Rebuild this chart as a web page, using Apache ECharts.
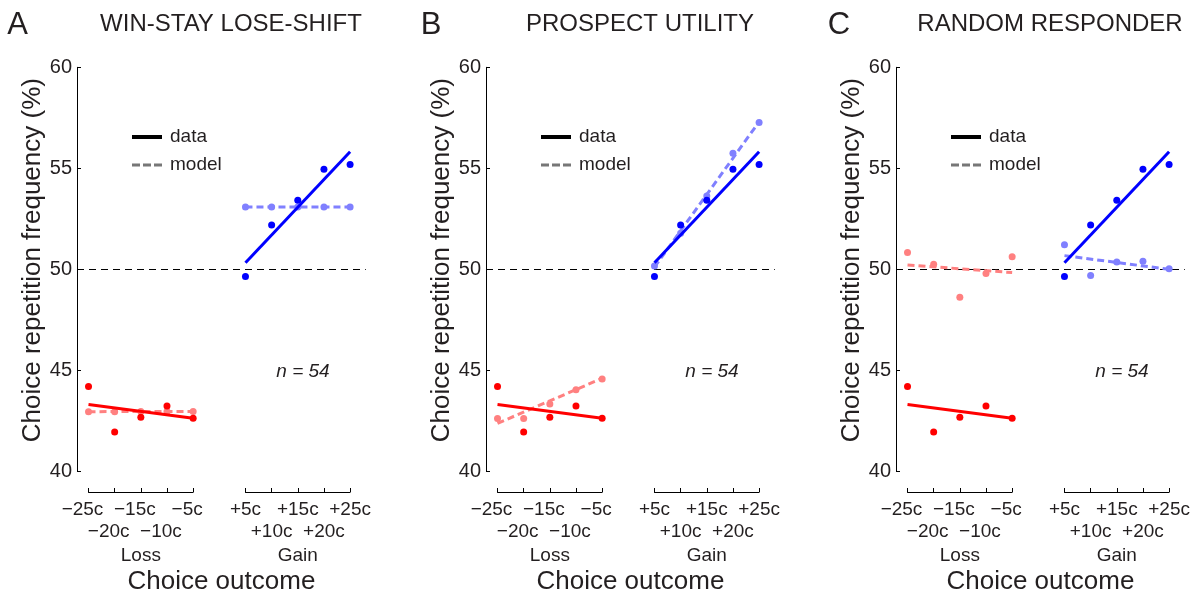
<!DOCTYPE html>
<html>
<head>
<meta charset="utf-8">
<script src="https://cdn.jsdelivr.net/npm/echarts@6/dist/echarts.min.js"></script>
<style>html,body{margin:0;padding:0;background:#fff}#c{width:1200px;height:596px}</style>
</head>
<body>
<div id="c"></div>
<script>
// ---------------- data ----------------
const lossLabels = ['−25c', '−20c', '−15c', '−10c', '−5c'];
const gainLabels = ['+5c', '+10c', '+15c', '+20c', '+25c'];
const lossX = [0, 1, 2, 3, 4];
const gainX = [6, 7, 8, 9, 10];
const yTicks = [40, 45, 50, 55, 60];

// observed data (same in all panels)
const lossData = [44.19, 41.93, 42.66, 43.22, 42.61];
const gainData = [49.63, 52.19, 53.41, 54.95, 55.18];
const lossDataFit = [43.30, 42.61];
const gainDataFit = [50.32, 55.82];

// A: win-stay lose-shift model
const wslsLossModel = [42.94, 42.94, 42.95, 42.95, 42.95];
const wslsGainModel = [53.08, 53.08, 53.08, 53.08, 53.08];
const wslsLossModelFit = [42.94, 42.95];
const wslsGainModelFit = [53.08, 53.08];

// B: prospect utility model
const puLossModel = [42.60, 42.60, 43.32, 44.03, 44.56];
const puGainModel = [50.16, 51.78, 53.63, 55.74, 57.26];
const puLossModelFit = [42.36, 44.59];
const puGainModelFit = [50.10, 57.30];

// C: random responder model
const rrLossModel = [50.82, 50.24, 48.61, 49.78, 50.62];
const rrGainModel = [51.21, 49.68, 50.36, 50.39, 50.02];
const rrLossModelFit = [50.21, 49.83];
const rrGainModelFit = [50.67, 49.99];

const panelLetters = ['A', 'B', 'C'];
const panelTitles = ['WIN-STAY LOSE-SHIFT', 'PROSPECT UTILITY', 'RANDOM RESPONDER'];
const nLabel = 'n = 54';

// ---------------- layout / style ----------------
const FONT = '"Liberation Sans", Arial, Helvetica, sans-serif';
const TXT = '#231f20';
const RED = '#ff0000', BLUE = '#0000ff', LRED = '#ff8080', LBLUE = '#8080ff';
const panelLeft = [77, 486, 896];
const letterX = [17.5, 431, 839];
const GTOP = 67.3, GH = 403.7, GW = 288.8;
const XMIN = -0.44, XMAX = 10.6;
const UNIT = GW / (XMAX - XMIN);

const models = [
  [wslsLossModel, wslsGainModel, wslsLossModelFit, wslsGainModelFit],
  [puLossModel, puGainModel, puLossModelFit, puGainModelFit],
  [rrLossModel, rrGainModel, rrLossModelFit, rrGainModelFit]
];

const grid = [], xAxis = [], yAxis = [], series = [], legend = [], graphic = [];

function pts(xs, ys) { return xs.map((x, i) => [x, ys[i]]); }
function fitPts(xs, f) { return [[xs[0], f[0]], [xs[xs.length - 1], f[1]]]; }

panelLetters.forEach((L, p) => {
  const left = panelLeft[p];
  const gi = grid.length;
  // main grid
  grid.push({ left: left, top: GTOP, width: GW, height: GH, containLabel: false, outerBoundsMode: 'none' });
  xAxis.push({
    gridIndex: gi, type: 'value', min: XMIN, max: XMAX,
    axisLine: { show: false, onZero: false }, axisTick: { show: false }, axisLabel: { show: false }, splitLine: { show: false },
    name: 'Choice outcome', nameLocation: 'middle', nameGap: 98,
    nameTextStyle: { fontFamily: FONT, fontSize: 26, color: TXT, lineHeight: 26 }
  });
  yAxis.push({
    gridIndex: gi, type: 'value', min: yTicks[0], max: yTicks[yTicks.length - 1], interval: yTicks[1] - yTicks[0],
    axisLine: { show: true, onZero: false, lineStyle: { color: '#000', width: 1 } },
    axisTick: { show: true, inside: true, length: 4, lineStyle: { color: '#000', width: 1 } },
    axisLabel: { fontFamily: FONT, fontSize: 20, color: TXT, margin: 5 },
    splitLine: { show: false },
    name: 'Choice repetition frequency (%)', nameLocation: 'middle', nameGap: 31,
    nameTextStyle: { fontFamily: FONT, fontSize: 26, color: TXT, lineHeight: 26, padding: [0, 0, 0, 18] }
  });

  const [lm, gm, lmf, gmf] = models[p];
  // model fit lines (dashed)
  series.push({
    type: 'line', xAxisIndex: gi, yAxisIndex: gi, data: fitPts(lossX, lmf), symbol: 'none', silent: true, z: 2,
    lineStyle: { color: LRED, width: 3, type: [7, 4] },
    markLine: {
      silent: true, symbol: ['none', 'none'], label: { show: false },
      lineStyle: { color: '#000', width: 1, type: [7, 5] },
      data: [{ yAxis: 50 }], z: 1
    }
  });
  series.push({
    type: 'line', xAxisIndex: gi, yAxisIndex: gi, data: fitPts(gainX, gmf), symbol: 'none', silent: true, z: 2,
    lineStyle: { color: LBLUE, width: 3, type: [7, 4] }
  });
  // model points
  series.push({ type: 'scatter', xAxisIndex: gi, yAxisIndex: gi, data: pts(lossX, lm), symbolSize: 7, itemStyle: { color: LRED, opacity: 1 }, z: 3, silent: true });
  series.push({ type: 'scatter', xAxisIndex: gi, yAxisIndex: gi, data: pts(gainX, gm), symbolSize: 7, itemStyle: { color: LBLUE, opacity: 1 }, z: 3, silent: true });
  // data fit lines
  series.push({
    type: 'line', xAxisIndex: gi, yAxisIndex: gi, data: fitPts(lossX, lossDataFit), symbol: 'none', silent: true, z: 4,
    lineStyle: { color: RED, width: 3 }
  });
  series.push({
    type: 'line', xAxisIndex: gi, yAxisIndex: gi, data: fitPts(gainX, gainDataFit), symbol: 'none', silent: true, z: 4,
    lineStyle: { color: BLUE, width: 3 }
  });
  // data points
  series.push({ type: 'scatter', xAxisIndex: gi, yAxisIndex: gi, data: pts(lossX, lossData), symbolSize: 7, itemStyle: { color: RED, opacity: 1 }, z: 5, silent: true });
  series.push({ type: 'scatter', xAxisIndex: gi, yAxisIndex: gi, data: pts(gainX, gainData), symbolSize: 7, itemStyle: { color: BLUE, opacity: 1 }, z: 5, silent: true });

  // bracket axes for Loss and Gain
  [[lossLabels, lossX, 'Loss', [0, 12, 0, 0]], [gainLabels, gainX, 'Gain', [0, 0, 0, 0]]].forEach(([labels, xs, nm, pad]) => {
    const bi = grid.length;
    const bl = left + (xs[0] - XMIN) * UNIT;
    const bw = (xs[xs.length - 1] - xs[0]) * UNIT;
    grid.push({ left: bl, top: 482, width: bw, height: 10, containLabel: false, outerBoundsMode: 'none' });
    xAxis.push({
      gridIndex: bi, type: 'category', data: labels, boundaryGap: false,
      axisLine: { show: true, onZero: false, lineStyle: { color: '#000', width: 1 } },
      axisTick: { show: true, inside: true, length: 4, alignWithLabel: true, interval: 0, lineStyle: { color: '#000', width: 1 } },
      axisLabel: {
        interval: 0, fontFamily: FONT, fontSize: 19, color: TXT, lineHeight: 22, margin: 7, padding: pad,
        formatter: (v, i) => (i % 2 ? '\n' + v : v)
      },
      splitLine: { show: false },
      name: nm, nameLocation: 'middle', nameGap: 54,
      nameTextStyle: { fontFamily: FONT, fontSize: 19, color: TXT, lineHeight: 19 }
    });
    yAxis.push({ gridIndex: bi, type: 'value', show: false });
  });

  // legend
  legend.push({
    left: left + 55, top: 127, orient: 'vertical', itemWidth: 30, itemHeight: 4, itemGap: 8, padding: 0,
    selectedMode: false,
    textStyle: { fontFamily: FONT, fontSize: 19, color: TXT, lineHeight: 20, padding: [0, 0, 0, 3] },
    itemStyle: { borderWidth: 0 },
    data: [
      { name: 'data', icon: 'path://M0,0h30v4h-30z' },
      { name: 'model', icon: 'path://M0,0h8v3h-8zM11,0h8v3h-8zM22,0h8v3h-8z' }
    ]
  });

  graphic.push({
    type: 'text', x: left + 226, y: 372,
    style: { text: nLabel, font: 'italic 19px ' + FONT, fill: TXT, textAlign: 'center', textVerticalAlign: 'middle', verticalAlign: 'middle', align: 'center' }
  });
  graphic.push({
    type: 'text', x: left + 154, y: 24,
    style: { text: panelTitles[p], font: '24px ' + FONT, fill: TXT, textAlign: 'center', textVerticalAlign: 'middle', verticalAlign: 'middle', align: 'center' }
  });
  graphic.push({
    type: 'text', x: letterX[p], y: 25,
    style: { text: L, font: '31px ' + FONT, fill: TXT, textAlign: 'center', textVerticalAlign: 'middle', verticalAlign: 'middle', align: 'center' }
  });
});

// legend key series (no points)
series.push({ name: 'data', type: 'line', xAxisIndex: 0, yAxisIndex: 0, data: [], symbol: 'none', itemStyle: { color: '#000' }, lineStyle: { color: '#000', width: 4 } });
series.push({ name: 'model', type: 'line', xAxisIndex: 0, yAxisIndex: 0, data: [], symbol: 'none', itemStyle: { color: '#777' }, lineStyle: { color: '#777', width: 3, type: [8, 3] } });

const chart = echarts.init(document.getElementById('c'), null, { renderer: 'canvas' });
chart.setOption({
  animation: false,
  backgroundColor: '#fff',
  grid, xAxis, yAxis, series, legend, graphic
});
</script>
</body>
</html>
